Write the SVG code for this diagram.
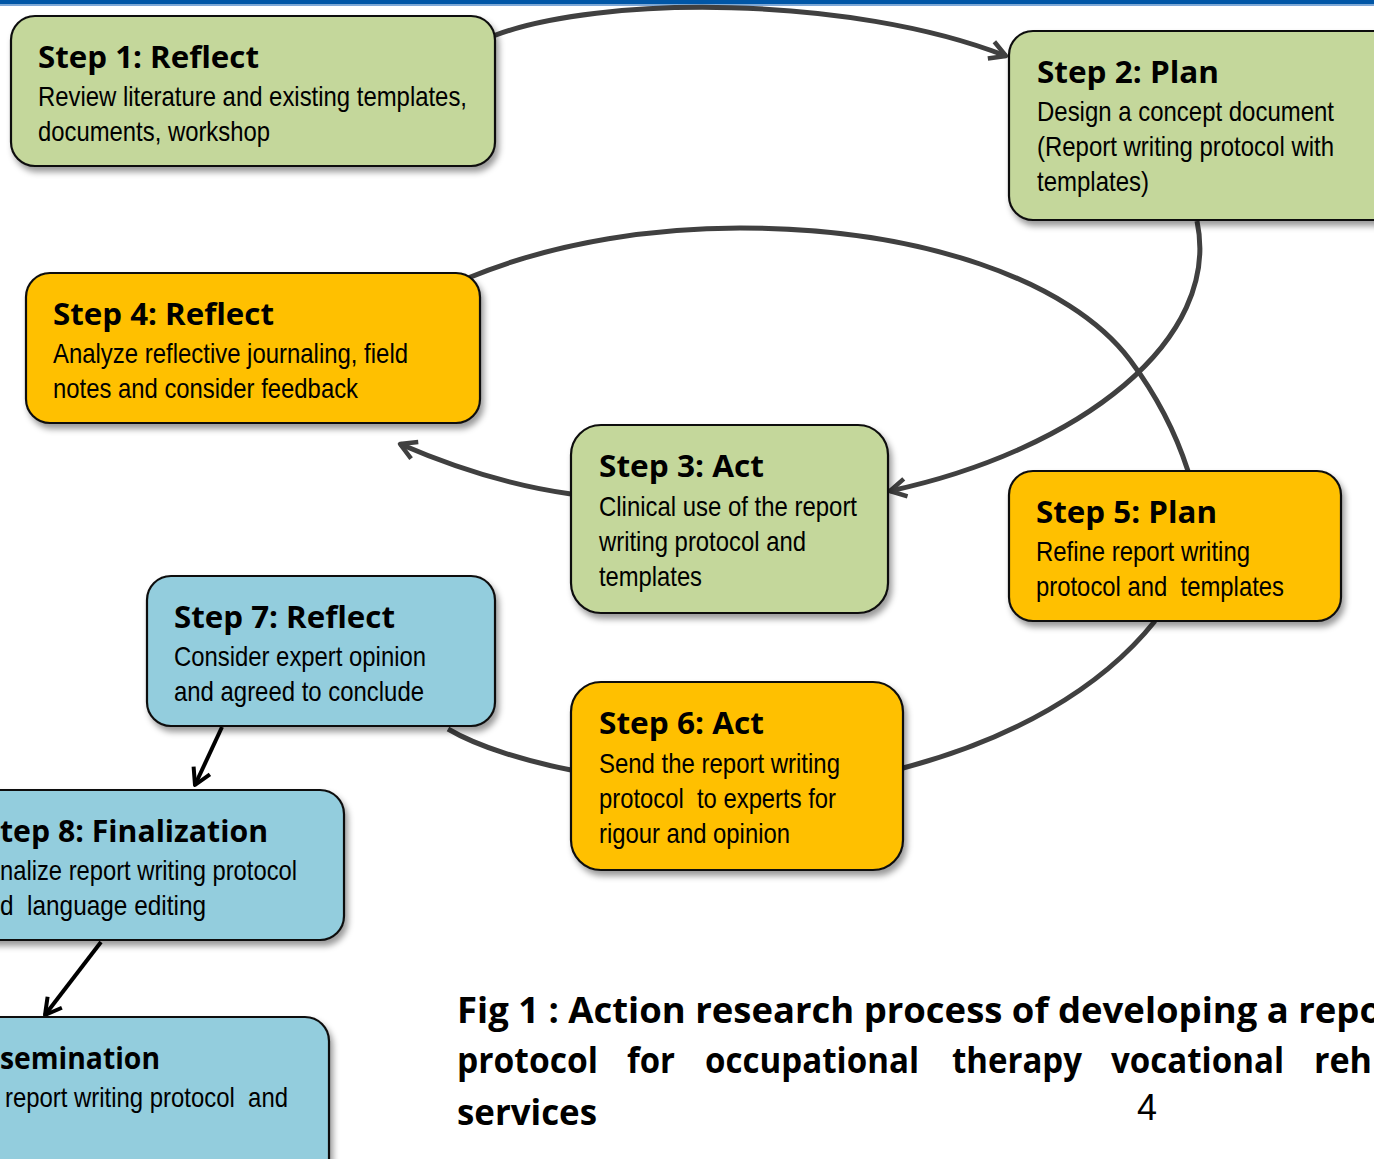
<svg xmlns="http://www.w3.org/2000/svg" width="1374" height="1159" viewBox="0 0 1374 1159">
<defs>
<style>
.box{stroke:#111;stroke-width:2.2}
.g{fill:#C4D79B}.o{fill:#FFC000}.b{fill:#93CDDD}
.t{font-family:"Open Sans","Liberation Sans",Arial,sans-serif;font-weight:700;font-size:31px;fill:#000}
.d{font-family:"Liberation Sans Narrow","Liberation Sans",Arial,sans-serif;font-size:28px;fill:#000}
.cap{font-family:"Open Sans","Liberation Sans",Arial,sans-serif;font-weight:700;font-size:36px;fill:#000}
.c{fill:none;stroke:#404040;stroke-width:5}
.k{fill:none;stroke:#000;stroke-width:4}
</style>
<filter id="sh" x="-10%" y="-10%" width="130%" height="140%">
<feDropShadow dx="3" dy="5" stdDeviation="3" flood-color="#000" flood-opacity="0.4"/>
</filter>
<marker id="ag" markerUnits="userSpaceOnUse" markerWidth="24" markerHeight="24" refX="20" refY="12" orient="auto" viewBox="0 0 24 24">
<path d="M4,3 L20,12 L4,21" fill="none" stroke="#404040" stroke-width="4.5" stroke-linejoin="round"/>
</marker>
<marker id="ak" markerUnits="userSpaceOnUse" markerWidth="24" markerHeight="24" refX="20" refY="12" orient="auto" viewBox="0 0 24 24">
<path d="M4,3 L20,12 L4,21" fill="none" stroke="#000" stroke-width="4" stroke-linejoin="round"/>
</marker>
</defs>
<rect x="0" y="0" width="1374" height="1159" fill="#fff"/>
<rect x="0" y="0" width="1374" height="4.5" fill="#0056A6"/>
<rect x="0" y="4.5" width="1374" height="1.5" fill="#7FA8D8"/>

<g id="connectors">
<path class="c" d="M493,36 C600,-5 850,-5 1006,56" marker-end="url(#ag)"/>
<path class="c" d="M1197,221 C1222,340 1080,450 890,491" marker-end="url(#ag)"/>
<path class="c" d="M571,494 C520,487 460,470 400,444" marker-end="url(#ag)"/>
<path class="c" d="M468,278 C560,240 660,228 740,228 C920,228 1070,280 1130,360 C1160,400 1178,440 1188,471"/>
<path class="c" d="M1155,621 C1100,690 1010,740 903,768"/>
<path class="c" d="M571,770 C530,762 480,748 448,729"/>
<path class="k" d="M222,727 L195,785" marker-end="url(#ak)"/>
<path class="k" d="M101,942 L45,1015" marker-end="url(#ak)"/>
</g>

<g id="step1">
<rect class="box g" x="11" y="16" width="484" height="150" rx="24" filter="url(#sh)"/>
<text class="t" x="38" y="68" textLength="221" lengthAdjust="spacingAndGlyphs">Step 1: Reflect</text>
<text class="d" x="38" y="106" textLength="429" lengthAdjust="spacingAndGlyphs">Review literature and existing templates,</text>
<text class="d" x="38" y="141" textLength="232" lengthAdjust="spacingAndGlyphs">documents, workshop</text>
</g>

<g id="step2">
<rect class="box g" x="1009" y="31" width="390" height="189" rx="24" filter="url(#sh)"/>
<text class="t" x="1037" y="83" textLength="182" lengthAdjust="spacingAndGlyphs">Step 2: Plan</text>
<text class="d" x="1037" y="121" textLength="297" lengthAdjust="spacingAndGlyphs">Design a concept document</text>
<text class="d" x="1037" y="156" textLength="297" lengthAdjust="spacingAndGlyphs">(Report writing protocol with</text>
<text class="d" x="1037" y="191" textLength="112" lengthAdjust="spacingAndGlyphs">templates)</text>
</g>

<g id="step4">
<rect class="box o" x="26" y="273" width="454" height="150" rx="24" filter="url(#sh)"/>
<text class="t" x="53" y="325" textLength="221" lengthAdjust="spacingAndGlyphs">Step 4: Reflect</text>
<text class="d" x="53" y="363" textLength="355" lengthAdjust="spacingAndGlyphs">Analyze reflective journaling, field</text>
<text class="d" x="53" y="398" textLength="305" lengthAdjust="spacingAndGlyphs">notes and consider feedback</text>
</g>

<g id="step3">
<rect class="box g" x="571" y="425" width="317" height="188" rx="30" filter="url(#sh)"/>
<text class="t" x="599" y="477" textLength="165" lengthAdjust="spacingAndGlyphs">Step 3: Act</text>
<text class="d" x="599" y="516" textLength="258" lengthAdjust="spacingAndGlyphs">Clinical use of the report</text>
<text class="d" x="599" y="551" textLength="207" lengthAdjust="spacingAndGlyphs">writing protocol and</text>
<text class="d" x="599" y="586" textLength="103" lengthAdjust="spacingAndGlyphs">templates</text>
</g>

<g id="step5">
<rect class="box o" x="1009" y="471" width="332" height="150" rx="24" filter="url(#sh)"/>
<text class="t" x="1036" y="523" textLength="181" lengthAdjust="spacingAndGlyphs">Step 5: Plan</text>
<text class="d" x="1036" y="561" textLength="214" lengthAdjust="spacingAndGlyphs">Refine report writing</text>
<text class="d" x="1036" y="596" textLength="248" lengthAdjust="spacingAndGlyphs" xml:space="preserve">protocol and  templates</text>
</g>

<g id="step7">
<rect class="box b" x="147" y="576" width="348" height="150" rx="24" filter="url(#sh)"/>
<text class="t" x="174" y="628" textLength="221" lengthAdjust="spacingAndGlyphs">Step 7: Reflect</text>
<text class="d" x="174" y="666" textLength="252" lengthAdjust="spacingAndGlyphs">Consider expert opinion</text>
<text class="d" x="174" y="701" textLength="250" lengthAdjust="spacingAndGlyphs">and agreed to conclude</text>
</g>

<g id="step6">
<rect class="box o" x="571" y="682" width="332" height="188" rx="30" filter="url(#sh)"/>
<text class="t" x="599" y="734" textLength="165" lengthAdjust="spacingAndGlyphs">Step 6: Act</text>
<text class="d" x="599" y="773" textLength="241" lengthAdjust="spacingAndGlyphs">Send the report writing</text>
<text class="d" x="599" y="808" textLength="237" lengthAdjust="spacingAndGlyphs" xml:space="preserve">protocol  to experts for</text>
<text class="d" x="599" y="843" textLength="191" lengthAdjust="spacingAndGlyphs">rigour and opinion</text>
</g>

<g id="step8">
<rect class="box b" x="-40" y="790" width="384" height="150" rx="24" filter="url(#sh)"/>
<text class="t" x="0" y="842" textLength="268" lengthAdjust="spacingAndGlyphs">tep 8: Finalization</text>
<text class="d" x="0" y="880" textLength="297" lengthAdjust="spacingAndGlyphs">nalize report writing protocol</text>
<text class="d" x="0" y="915" textLength="206" lengthAdjust="spacingAndGlyphs" xml:space="preserve">d  language editing</text>
</g>

<g id="step9">
<rect class="box b" x="-40" y="1017" width="369" height="180" rx="24" filter="url(#sh)"/>
<text class="t" x="0" y="1069" textLength="160" lengthAdjust="spacingAndGlyphs">semination</text>
<text class="d" x="5" y="1107" textLength="283" lengthAdjust="spacingAndGlyphs" xml:space="preserve">report writing protocol  and</text>
</g>

<g id="caption">
<text class="cap" x="457" y="1023" textLength="925" lengthAdjust="spacingAndGlyphs">Fig 1 : Action research process of developing a repo</text>
<text class="cap" x="457" y="1073" textLength="141" lengthAdjust="spacingAndGlyphs">protocol</text>
<text class="cap" x="627" y="1073" textLength="48" lengthAdjust="spacingAndGlyphs">for</text>
<text class="cap" x="705" y="1073" textLength="214" lengthAdjust="spacingAndGlyphs">occupational</text>
<text class="cap" x="952" y="1073" textLength="130" lengthAdjust="spacingAndGlyphs">therapy</text>
<text class="cap" x="1111" y="1073" textLength="173" lengthAdjust="spacingAndGlyphs">vocational</text>
<text class="cap" x="1314" y="1073" textLength="58" lengthAdjust="spacingAndGlyphs">reh</text>
<text class="cap" x="457" y="1125" textLength="140" lengthAdjust="spacingAndGlyphs">services</text>
<text x="1137" y="1120" style="font-family:'Liberation Sans',Arial,sans-serif;font-size:36px;fill:#000">4</text>
</g>
</svg>
